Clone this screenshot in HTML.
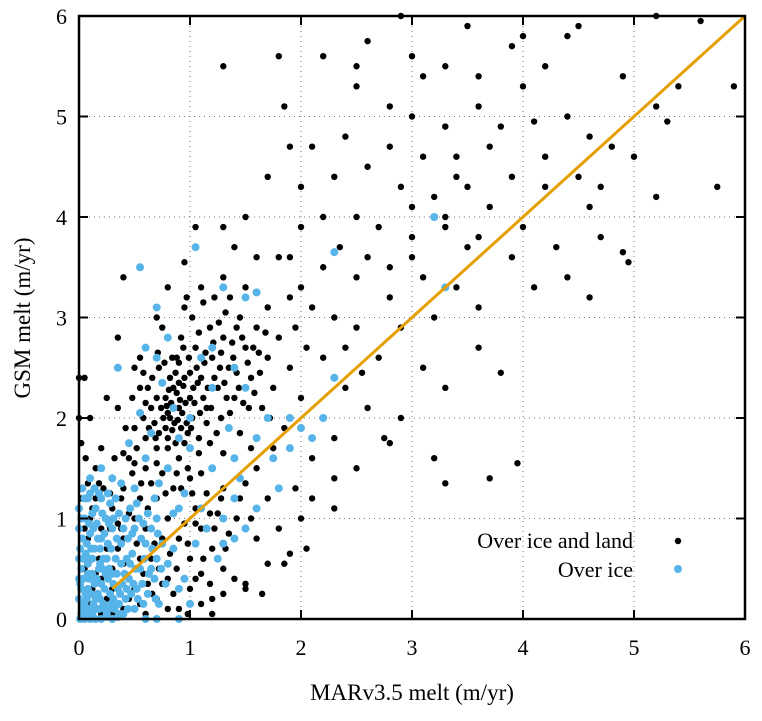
<!DOCTYPE html>
<html><head><meta charset="utf-8"><style>
body{margin:0;background:#fff}
svg text{font-family:"Liberation Serif",serif;fill:#000}
</style></head><body>
<svg id="chart" width="762" height="716" xmlns="http://www.w3.org/2000/svg"></svg>
<script>
const xTicks=[0,1,2,3,4,5,6];
const yTicks=[0,1,2,3,4,5,6];
const fitLine=[[0.3,0.3],[6,6]];
const blackPts=[[2.9,6.0],[3.0,5.6],[3.5,5.9],[3.9,5.7],[4.0,5.8],[4.4,5.8],[4.5,5.9],[4.2,5.5],[5.2,6.0],[5.6,5.95],[5.9,5.3],[5.4,5.3],[5.2,5.1],[5.3,4.95],[4.9,5.4],[4.0,5.3],[3.6,5.4],[3.3,5.5],[3.1,5.4],[2.6,5.75],[2.5,5.5],[2.2,5.6],[1.3,5.5],[1.8,5.6],[1.85,5.1],[2.5,5.3],[2.8,5.1],[3.0,5.0],[3.3,4.9],[3.6,5.1],[3.8,4.9],[4.1,4.95],[4.4,5.0],[4.6,4.8],[4.8,4.7],[3.7,4.7],[3.4,4.6],[3.1,4.6],[2.8,4.7],[2.4,4.8],[2.1,4.7],[1.9,4.7],[1.7,4.4],[2.0,4.3],[2.3,4.4],[2.6,4.5],[2.9,4.3],[3.2,4.2],[3.5,4.3],[3.9,4.4],[4.2,4.6],[4.5,4.4],[4.7,4.3],[5.0,4.6],[5.75,4.3],[5.2,4.2],[4.6,4.1],[4.3,3.7],[4.7,3.8],[4.9,3.65],[4.95,3.55],[4.6,3.2],[4.4,3.4],[4.1,3.3],[3.9,3.6],[3.6,3.8],[3.3,3.9],[3.0,3.8],[2.7,3.9],[2.5,4.0],[2.2,4.0],[2.0,3.9],[1.8,3.6],[1.5,4.0],[1.3,3.9],[1.05,3.9],[1.4,3.7],[1.6,3.6],[1.9,3.6],[2.2,3.5],[2.5,3.4],[2.8,3.5],[3.1,3.4],[3.4,3.3],[3.6,3.1],[3.8,2.45],[3.95,1.55],[3.7,1.4],[3.3,1.35],[3.3,2.3],[3.1,2.5],[2.9,2.0],[2.75,1.8],[2.6,2.1],[2.4,2.3],[2.7,2.6],[2.9,2.9],[3.2,3.0],[2.5,2.9],[2.3,3.0],[2.1,3.1],[1.9,3.2],[1.7,3.1],[1.5,3.3],[1.3,3.4],[1.1,3.3],[0.95,3.55],[0.8,3.3],[0.95,3.1],[0.7,3.0],[0.75,2.9],[0.6,2.7],[0.4,3.4],[0.35,2.8],[0.5,2.5],[0.55,2.3],[0.65,2.1],[0.72,2.5],[0.78,2.2],[0.82,2.0],[0.85,2.3],[0.88,2.6],[0.9,2.1],[0.92,1.9],[0.95,2.4],[1.0,2.2],[1.02,2.0],[1.05,2.7],[1.08,1.8],[1.1,2.4],[1.15,2.1],[1.18,2.9],[1.2,2.6],[1.25,2.3],[1.28,2.0],[1.3,2.8],[1.35,2.5],[1.4,2.2],[1.45,3.0],[1.5,2.7],[1.55,2.4],[1.6,2.9],[1.65,2.1],[1.7,2.6],[1.75,2.3],[1.8,2.8],[1.85,1.9],[1.9,2.5],[2.0,2.2],[2.05,2.7],[2.1,1.6],[2.2,2.0],[2.3,1.8],[1.95,1.3],[2.0,1.0],[2.1,1.2],[2.3,1.1],[1.8,0.9],[1.6,0.8],[1.6,1.5],[1.4,1.6],[1.3,1.3],[1.2,1.5],[1.0,1.4],[0.9,1.6],[0.8,1.8],[0.7,1.7],[0.6,1.5],[0.5,1.9],[0.45,1.6],[0.4,1.3],[0.3,1.4],[0.2,1.7],[0.15,1.5],[0.1,2.0],[0.05,2.4],[0.02,1.2],[0.1,1.0],[0.2,0.9],[0.3,1.1],[0.4,0.8],[0.5,1.0],[0.6,0.9],[0.7,1.2],[0.8,1.0],[0.9,0.8],[1.0,0.6],[1.1,0.9],[1.2,0.7],[1.3,0.5],[1.4,0.4],[1.5,0.3],[1.2,0.2],[1.0,0.3],[0.9,0.1],[0.8,0.4],[0.7,0.2],[0.6,0.05],[0.5,0.3],[0.4,0.1],[0.3,0.5],[0.85,1.3],[0.75,1.45],[0.55,1.2],[0.65,0.6],[1.05,1.1],[1.15,1.25],[1.25,1.05],[1.35,0.85],[1.45,1.2],[1.55,1.0],[1.7,0.55],[1.85,0.55],[1.9,0.65],[2.05,0.7],[1.65,0.25],[1.5,0.35],[1.2,0.05],[1.1,0.15],[0.8,2.05],[0.83,2.15],[0.86,1.95],[0.88,2.25],[0.9,2.35],[0.93,2.05],[0.96,2.15],[0.98,1.85],[1.0,2.45],[0.75,2.35],[0.7,2.2],[0.78,1.9],[0.82,2.4],[0.87,1.75],[0.9,2.55],[0.94,2.7],[1.03,2.3],[1.06,2.5],[1.12,2.2],[1.15,1.95],[0.68,1.95],[0.62,2.3],[0.58,2.0],[0.72,1.85],[1.22,2.4],[1.28,2.65],[1.33,2.2],[1.38,2.75],[1.42,2.45],[1.48,2.15],[1.52,2.55],[1.58,2.25],[1.62,2.65],[1.02,3.0],[1.12,3.15],[1.22,3.2],[1.32,3.05],[1.42,2.9],[0.05,0.5],[0.12,0.3],[0.18,0.6],[0.25,0.2],[0.35,0.7],[0.45,0.4],[0.55,0.6],[0.62,0.35],[0.72,0.5],[0.28,0.9],[0.15,1.2],[0.08,0.8],[0.22,1.3],[0.32,1.6],[0.42,1.9],[0.52,1.7],[0.6,1.8],[0.06,1.6],[0.0,2.4],[0.35,2.1],[0.25,2.2],[0.48,2.2],[0.55,2.6],[3.3,4.0],[3.5,3.7],[3.7,4.1],[4.0,3.9],[4.2,4.3],[3.4,4.4],[3.0,4.1],[2.8,3.2],[2.6,3.6],[2.35,3.7],[3.0,3.6],[2.0,3.3],[2.2,2.6],[2.4,2.7],[2.55,2.45],[1.95,2.9],[3.6,2.7],[3.2,1.6],[2.8,1.75],[2.5,1.5],[2.3,1.4],[0.98,1.5],[1.08,1.65],[1.18,1.75],[0.65,1.35],[0.45,1.05],[0.35,0.95],[0.52,0.75],[0.75,0.8],[0.95,0.95],[1.1,0.45],[0.85,0.25],[0.3,0.05],[0.2,0.4],
[0.76,2.0],[0.79,2.12],[0.81,2.28],[0.84,1.88],[0.87,2.45],[0.89,1.98],[0.91,2.18],[0.94,2.32],[0.97,1.95],[0.99,2.6],[1.01,1.9],[1.04,2.15],[1.07,2.35],[1.09,2.05],[1.13,2.55],[1.16,2.3],[1.19,2.1],[1.21,2.75],[1.24,1.85],[1.27,2.5],[1.31,2.35],[1.36,2.05],[1.39,2.6],[1.44,2.3],[1.47,2.8],[1.53,2.1],[1.57,2.7],[1.63,2.45],[1.68,2.85],[1.72,2.0],[0.66,2.4],[0.69,1.8],[0.71,2.65],[0.74,2.1],[0.77,2.55],[0.8,1.7],[0.84,2.6],[0.92,2.8],[0.97,3.2],[1.08,2.85],[1.14,2.65],[1.26,2.95],[1.36,3.2],[0.6,2.15],[0.63,1.9],[0.58,2.45],[0.4,1.65],[0.48,1.45],[0.38,1.2],[0.28,1.25],[0.18,1.35],[0.12,1.1],[0.25,1.0],[0.38,0.9],[0.62,1.1],[0.78,1.25],[0.92,1.3],[1.02,1.25],[0.88,1.45],[0.7,1.55],[0.5,1.55],[0.56,1.35],[0.68,0.75],[0.82,0.65],[0.98,0.75],[1.12,0.6],[1.22,0.9],[1.32,0.7],[1.42,1.0],[0.58,0.45],[0.75,0.35],[0.88,0.5],[1.05,0.4],[1.18,0.35],[1.3,0.25],[0.45,0.2],[0.55,0.15],[0.66,0.25],[0.8,0.1],[0.98,0.05],[1.05,0.95],[1.18,1.05],[1.28,1.2],[1.5,1.35],[1.7,1.2],[1.55,1.7],[1.75,1.7],[1.45,1.85],[1.3,1.65],[1.1,1.45],[0.95,1.75],[0.2,0.05],[0.1,0.15],[0.15,0.45],[0.05,0.9],[0.08,1.35],[0.02,1.75],[0.0,2.0],[0.25,0.7],[0.4,0.55],[0.3,0.3]];
const bluePts=[[3.2,4.0],[3.3,3.3],[1.05,3.7],[0.55,3.5],[2.3,3.65],[1.5,3.2],[1.6,3.25],[0.6,2.7],[0.7,2.6],[0.35,2.5],[0.7,3.1],[0.8,2.8],[1.3,3.3],[1.9,2.0],[2.0,1.9],[2.3,2.4],[1.7,2.0],[1.5,2.3],[1.2,2.3],[1.1,2.6],[0.75,2.35],[0.9,1.8],[1.0,1.7],[1.2,1.5],[1.4,1.6],[1.6,1.8],[1.8,1.3],[1.9,1.7],[2.1,1.8],[2.2,2.0],[1.4,1.2],[1.3,1.0],[1.1,1.1],[0.9,1.1],[0.7,1.0],[0.5,1.3],[0.3,1.4],[0.2,1.5],[0.1,1.4],[0.6,1.6],[0.8,1.5],[1.5,0.9],[1.4,0.8],[1.25,0.6],[1.05,0.75],[0.95,0.4],[0.85,0.7],[0.65,0.5],[0.02,0.05],[0.05,0.15],[0.08,0.3],[0.1,0.05],[0.12,0.45],[0.15,0.2],[0.18,0.1],[0.2,0.35],[0.22,0.6],[0.25,0.05],[0.28,0.25],[0.3,0.45],[0.32,0.1],[0.35,0.3],[0.38,0.55],[0.4,0.05],[0.42,0.2],[0.45,0.4],[0.48,0.65],[0.5,0.1],[0.52,0.3],[0.55,0.5],[0.58,0.15],[0.6,0.75],[0.62,0.25],[0.65,0.9],[0.68,0.4],[0.7,0.6],[0.72,0.15],[0.75,0.75],[0.78,0.35],[0.8,0.55],[0.02,0.5],[0.03,0.8],[0.05,1.0],[0.06,0.65],[0.08,1.2],[0.1,0.85],[0.12,1.05],[0.14,0.7],[0.16,0.95],[0.18,1.25],[0.2,0.8],[0.24,1.0],[0.26,0.75],[0.28,1.15],[0.3,0.9],[0.34,0.8],[0.36,1.05],[0.4,0.9],[0.44,0.8],[0.46,1.1],[0.5,0.9],[0.54,1.0],[0.56,0.8],[0.02,0.3],[0.04,0.4],[0.06,0.25],[0.08,0.55],[0.1,0.6],[0.13,0.15],[0.16,0.4],[0.19,0.55],[0.22,0.15],[0.24,0.45],[0.27,0.5],[0.33,0.6],[0.36,0.15],[0.39,0.35],[0.43,0.6],[0.47,0.25],[0.01,0.0],[0.05,0.0],[0.1,0.0],[0.15,0.0],[0.2,0.0],[0.25,0.02],[0.3,0.0],[0.35,0.02],[0.0,0.2],[0.0,0.4],[0.0,0.6],[0.0,0.9],[0.0,1.1],[0.03,1.3],[0.85,1.05],[0.95,1.25],[1.15,0.9],[1.3,0.75],[1.45,1.4],[1.6,1.1],[1.75,1.6],[1.35,1.9],[0.55,2.05],[0.45,1.75],[0.65,1.85],[0.85,2.1],[1.0,2.0],[1.2,2.7],[1.4,2.5],[0.9,0.3],[1.0,0.15],[0.6,0.0],[0.7,0.0],[0.9,0.0],
[0.04,0.1],[0.07,0.2],[0.09,0.4],[0.11,0.25],[0.14,0.35],[0.17,0.25],[0.21,0.5],[0.23,0.3],[0.26,0.4],[0.29,0.15],[0.31,0.35],[0.34,0.45],[0.37,0.25],[0.41,0.45],[0.44,0.1],[0.46,0.55],[0.49,0.35],[0.51,0.5],[0.53,0.2],[0.57,0.35],[0.59,0.6],[0.63,0.45],[0.66,0.7],[0.69,0.2],[0.71,0.85],[0.74,0.5],[0.04,0.6],[0.07,0.75],[0.09,0.95],[0.11,0.7],[0.13,0.9],[0.15,1.1],[0.17,0.8],[0.19,0.7],[0.21,1.05],[0.23,0.85],[0.27,0.95],[0.29,0.7],[0.31,1.0],[0.33,1.2],[0.38,0.75],[0.42,1.0],[0.48,0.85],[0.52,1.15],[0.58,0.95],[0.62,1.05],[0.68,1.2],[0.72,1.35],[0.03,0.15],[0.06,0.05],[0.09,0.1],[0.12,0.05],[0.16,0.1],[0.19,0.2],[0.23,0.1],[0.27,0.1],[0.31,0.2],[0.37,0.05],[0.43,0.3],[0.01,0.35],[0.01,0.7],[0.02,1.0],[0.05,1.2],[0.1,1.25],[0.14,1.3],[0.2,1.2],[0.26,1.25],[0.38,1.35],[0.25,0.6],[0.18,0.5],[0.12,0.6],[0.08,0.45]];

const svg=document.getElementById('chart');
const NS='http://www.w3.org/2000/svg';
const L=79,R=745,T=16,B=619;
function sx(v){return L+(v-0)/6*(R-L);}
function sy(v){return B-(v-0)/6*(B-T);}
function mk(tag,attrs,parent){const e=document.createElementNS(NS,tag);for(const k in attrs)e.setAttribute(k,attrs[k]);(parent||svg).appendChild(e);return e;}

const grid=mk('g',{});


xTicks.forEach(v=>{if(v>0&&v<6){const l=mk('line',{x1:sx(v),x2:sx(v),y1:T,y2:B,stroke:'#777','stroke-width':1,'stroke-dasharray':'1,4'},grid);

}});
yTicks.forEach(v=>{if(v>0&&v<6){const l=mk('line',{x1:L,x2:R,y1:sy(v),y2:sy(v),stroke:'#777','stroke-width':1,'stroke-dasharray':'1,4'},grid);

}});

const gb=mk('g',{});


blackPts.forEach(p=>{const c=mk('circle',{cx:sx(p[0]),cy:sy(p[1]),r:3.2,fill:'#000'},gb);

});
const gl=mk('g',{});


bluePts.forEach(p=>{const c=mk('circle',{cx:sx(p[0]),cy:sy(p[1]),r:4,fill:'#56b4e9'},gl);

});

const fl=mk('line',{x1:sx(fitLine[0][0]),y1:sy(fitLine[0][1]),x2:sx(fitLine[1][0]),y2:sy(fitLine[1][1]),stroke:'#e69f00','stroke-width':3});



const fr=mk('rect',{x:L,y:T,width:R-L,height:B-T,fill:'none',stroke:'#000','stroke-width':2.5});



xTicks.forEach(v=>{
  mk('line',{x1:sx(v),x2:sx(v),y1:B,y2:B-9,stroke:'#000','stroke-width':2});
  mk('line',{x1:sx(v),x2:sx(v),y1:T,y2:T+9,stroke:'#000','stroke-width':2});
  const t=mk('text',{x:sx(v),y:B+36,'text-anchor':'middle','font-size':22});
  t.textContent=v;
  
  
});
yTicks.forEach(v=>{
  mk('line',{x1:L,x2:L+9,y1:sy(v),y2:sy(v),stroke:'#000','stroke-width':2});
  mk('line',{x1:R,x2:R-9,y1:sy(v),y2:sy(v),stroke:'#000','stroke-width':2});
  const t=mk('text',{x:L-12,y:sy(v)+8,'text-anchor':'end','font-size':22});
  t.textContent=v;
  
  
});

const xt=mk('text',{x:412,y:700,'text-anchor':'middle','font-size':23});
xt.textContent='MARv3.5 melt (m/yr)';


const yt=mk('text',{x:0,y:0,'text-anchor':'middle','font-size':23,transform:'translate(30,318) rotate(-90)'});
yt.textContent='GSM melt (m/yr)';



const lg=mk('g',{});


const l1=mk('text',{x:633,y:548,'text-anchor':'end','font-size':22},lg);
l1.textContent='Over ice and land';


const d1=mk('circle',{cx:678,cy:541,r:3.2,fill:'#000'},lg);


const l2=mk('text',{x:633,y:577,'text-anchor':'end','font-size':22},lg);
l2.textContent='Over ice';


const d2=mk('circle',{cx:678,cy:569,r:4,fill:'#56b4e9'},lg);


</script>
</body></html>
